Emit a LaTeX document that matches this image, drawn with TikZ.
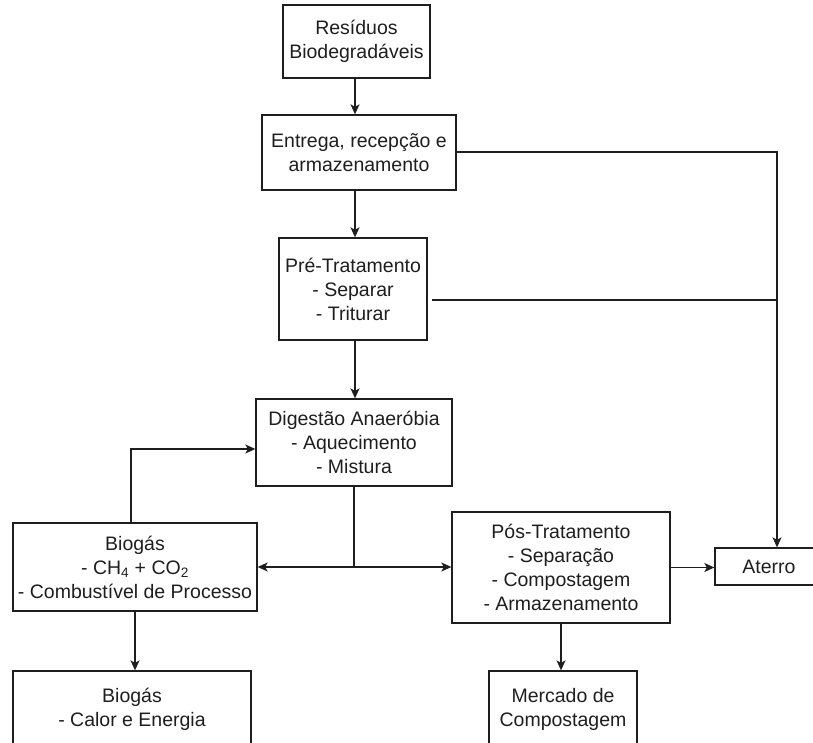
\documentclass[tikz,border=0pt]{standalone}
\usepackage{fontspec}
\setmainfont{Liberation Sans}
\usetikzlibrary{arrows.meta}
\definecolor{ink}{RGB}{30,30,30}
\begin{document}
\begin{tikzpicture}[x=1pt,y=-1pt,
  box/.style={draw=ink, line width=1.3pt, rectangle, align=center, inner sep=0pt,
    text=ink, font=\fontsize{19.5}{24}\selectfont},
  link/.style={draw=ink, line width=1.3pt},
  arr/.style={link, -{Stealth[length=10pt,width=9pt,inset=2.5pt]}}]
\useasboundingbox (0,0) rectangle (813,743);
\clip (0,0) rectangle (813,743);

% process boxes
\node[box, minimum width=147, minimum height=73] (res) at (356.5,41.5) {Resíduos\\Biodegradáveis};
\node[box, minimum width=194, minimum height=75] (ent) at (359,152.5) {Entrega, recepção e\\armazenamento};
\node[box, minimum width=148, minimum height=102] (pre) at (353,289) {Pré-Tratamento\\- Separar\\- Triturar};
\node[box, minimum width=196, minimum height=87] (dig) at (354,442.5) {Digestão Anaeróbia\\- Aquecimento\\- Mistura};
\node[box, minimum width=244, minimum height=88] (bio) at (135,567) {Biogás\\- CH\textsubscript{4} + CO\textsubscript{2}\\- Combustível de Processo};
\node[box, minimum width=218, minimum height=111] (pos) at (561,567.5) {Pós-Tratamento\\- Separação\\- Compostagem\\- Armazenamento};
\node[box, minimum width=108, minimum height=37] (ate) at (769,566.5) {Aterro};
\node[box, minimum width=238, minimum height=76] (cal) at (132,709) {Biogás\\- Calor e Energia};
\node[box, minimum width=148, minimum height=76] (mer) at (563,709) {Mercado de\\Compostagem};

% routing points
\coordinate (spine) at (355,0);
\coordinate (rail) at (777,152);
\coordinate (prejoin) at (777,300);
\coordinate (split) at (354,567);
\coordinate (loop) at (131,449);

% main flow
\draw[arr] (spine |- res.south) -- (spine |- ent.north);
\draw[arr] (spine |- ent.south) -- (spine |- pre.north);
\draw[arr] (spine |- pre.south) -- (spine |- dig.north);

% rejects to landfill
\draw[arr] (ent.east |- rail) -- (rail) -- (rail |- ate.north);
\draw[link] (pre.east |- prejoin) ++(4,0) -- (prejoin);

% digester outputs
\draw[link] (split |- dig.south) -- (split);
\draw[arr] (split) -- (bio.east |- split);
\draw[arr] (split) -- (pos.west |- split);

% biogas recirculation
\draw[arr] (loop |- bio.north) -- (loop) -- (dig.west |- loop);

% final destinations
\draw[arr] (bio.south) -- (bio.south |- cal.north);
\draw[arr] (pos.east) -- (ate.west |- pos.east);
\draw[arr] (pos.south) -- (pos.south |- mer.north);
\end{tikzpicture}
\end{document}
